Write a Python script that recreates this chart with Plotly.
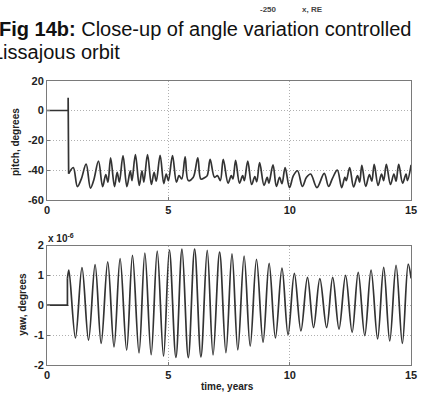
import plotly.graph_objects as go

W, H = 422, 398

# ---------------- data ----------------
pitch_step_t = [0, 0.87, 0.87, 0.89]
pitch_step_v = [0, 0, 8.5, -42.4]

pitch_t = [0.89, 1.08, 1.25, 1.41, 1.61, 1.79, 1.92, 2.12, 2.29, 2.42, 2.51, 2.62,
           2.78, 2.89, 2.98, 3.13, 3.29, 3.43, 3.50, 3.64, 3.80, 3.91, 3.99, 4.14,
           4.30, 4.41, 4.50, 4.66, 4.81, 4.91, 5.00, 5.17, 5.33, 5.44, 5.55, 5.69,
           5.82, 6.02, 6.21, 6.34, 6.50, 6.60, 6.72, 6.90, 7.02, 7.14, 7.26, 7.46,
           7.59, 7.66, 7.77, 7.93, 8.06, 8.13, 8.27, 8.43, 8.56, 8.64, 8.76, 8.94,
           9.07, 9.14, 9.31, 9.45, 9.58, 9.68, 9.81, 9.99, 10.15, 10.32, 10.52, 10.69,
           10.86, 11.12, 11.42, 11.60, 11.76, 11.96, 12.14, 12.27, 12.33, 12.47, 12.63,
           12.79, 12.88, 12.97, 13.13, 13.28, 13.38, 13.48, 13.64, 13.78, 13.87, 13.98,
           14.15, 14.29, 14.38, 14.49, 14.65, 14.79, 14.85, 15.0]
pitch_v = [-42.4, -38.3, -51, -46, -36, -52, -47, -34, -51, -43, -48, -31.7,
           -51, -41.5, -48, -30.2, -51, -40.4, -47, -29.6, -50.2, -40.4, -48, -29.6,
           -49.6, -41.5, -47.4, -30, -49, -42.6, -47, -30.2, -48, -43.7, -45.9, -31,
           -47, -45, -31.7, -46, -45, -43.7, -32.8, -44.8, -43.7, -47, -32.8, -48.7,
           -43.7, -45.9, -33.5, -48.7, -43.7, -47, -33.9, -49.6, -44.3, -47.8, -35, -50.2,
           -44.8, -48.7, -36.5, -50.9, -44.8, -49.1, -38.3, -51.7, -43.7, -40.4, -50.9, -44.8,
           -42.6, -51.7, -42.2, -50.9, -45.5, -40, -51.7, -44.8, -47, -38.3, -51.3,
           -43.7, -48, -36.7, -50.9, -43, -47.4, -36.1, -50.2, -42.6, -47, -36.1,
           -49.6, -42.6, -47.4, -36.1, -48.7, -42.6, -47, -36.5]

yaw_step_t = [0, 0.84, 0.84]
yaw_step_v = [0, 0, 0.9]

# yaw in units of 1e-6 degrees
yaw_t = [0.84, 0.90, 1.17, 1.44, 1.71, 1.98, 2.23, 2.50, 2.76, 3.01, 3.28, 3.52, 3.79,
         4.03, 4.29, 4.54, 4.80, 5.04, 5.31, 5.56, 5.82, 6.08, 6.34, 6.60, 6.84,
         7.11, 7.37, 7.62, 7.86, 8.12, 8.37, 8.63, 8.90, 9.15, 9.41, 9.68, 9.93,
         10.19, 10.46, 10.73, 10.98, 11.24, 11.52, 11.77, 12.03, 12.30, 12.57, 12.82,
         13.09, 13.35, 13.62, 13.87, 14.12, 14.38, 14.64, 14.88, 15.0]
yaw_v = [0.9, 1.18, -1.10, 1.26, -1.17, 1.36, -1.28, 1.45, -1.40, 1.56, -1.51, 1.67, -1.60,
         1.75, -1.66, 1.81, -1.71, 1.85, -1.75, 1.88, -1.76, 1.88, -1.73, 1.84, -1.67,
         1.78, -1.59, 1.72, -1.50, 1.65, -1.37, 1.54, -1.24, 1.40, -1.10, 1.24, -0.99,
         1.07, -0.86, 0.93, -0.75, 0.89, -0.75, 0.93, -0.80, 1.00, -0.91, 1.10,
         -1.02, 1.18, -1.13, 1.27, -1.20, 1.34, -1.28, 1.38, 0.9]

x_ticks = [0, 5, 10, 15]
x_labels = ["0", "5", "10", "15"]
pitch_ticks = [-60, -40, -20, 0, 20]
pitch_labels = ["-60", "-40", "-20", "0", "20"]
yaw_ticks = [-2, -1, 0, 1, 2]
yaw_labels = ["-2", "-1", "0", "1", "2"]

# ---------------- figure ----------------
def px(x):
    return x / W

def py(y):
    return 1 - y / H

LINE = dict(color="#333333", width=1.7)
FONT = "Arial, Liberation Sans, sans-serif"

fig = go.Figure()
fig.add_trace(go.Scatter(x=pitch_step_t, y=pitch_step_v, mode="lines", line=LINE,
                         xaxis="x", yaxis="y", showlegend=False))
fig.add_trace(go.Scatter(x=pitch_t, y=pitch_v, mode="lines",
                         line=dict(LINE, shape="spline", smoothing=1.0),
                         xaxis="x", yaxis="y", showlegend=False))
fig.add_trace(go.Scatter(x=yaw_step_t, y=yaw_step_v, mode="lines", line=LINE,
                         xaxis="x2", yaxis="y2", showlegend=False))
fig.add_trace(go.Scatter(x=yaw_t, y=yaw_v, mode="lines",
                         line=dict(LINE, shape="spline", smoothing=1.0),
                         xaxis="x2", yaxis="y2", showlegend=False))

ax_common = dict(showgrid=True, gridcolor="#b0b0b0", griddash="1px,2px", gridwidth=1,
                 showline=True, mirror=True, linecolor="#7a7a7a", linewidth=1,
                 ticks="inside", ticklen=3, tickcolor="#7a7a7a", zeroline=False,
                 ticklabeloverflow="allow",
                 tickfont=dict(family=FONT, size=11, color="#222", weight="bold"))

xd = [px(45), px(417)]
fig.update_layout(
    width=W, height=H, margin=dict(l=0, r=0, t=0, b=0),
    paper_bgcolor="white", plot_bgcolor="white",
    xaxis=dict(ax_common, domain=xd, range=[0, 15], tickvals=x_ticks, ticktext=x_labels, anchor="y"),
    yaxis=dict(ax_common, domain=[py(200), py(77)], range=[-60, 20],
               tickvals=pitch_ticks, ticktext=pitch_labels, anchor="x"),
    xaxis2=dict(ax_common, domain=xd, range=[0, 15], tickvals=x_ticks, ticktext=x_labels, anchor="y2"),
    yaxis2=dict(ax_common, domain=[py(370), py(247)], range=[-2, 2],
                tickvals=yaw_ticks, ticktext=yaw_labels, anchor="x2"),
)

def ann(text, x, y, size, xanchor="center", yanchor="middle", angle=0, bold=False, color="#222"):
    fig.add_annotation(text=text, x=px(x), y=py(y), xref="paper", yref="paper",
                       showarrow=False, xanchor=xanchor, yanchor=yanchor, textangle=angle,
                       font=dict(family=FONT, size=size, color=color,
                                 weight="bold" if bold else "normal"))

ann("<b>Fig 14b:</b> Close-up of angle variation controlled", -6, 24, 20, xanchor="left", color="#111")
ann("Lissajous orbit", -13, 47, 20, xanchor="left", color="#111")
ann("-250", 271, 4, 8, bold=True, color="#444")
ann("x, RE", 316, 4, 8, bold=True, color="#444")
ann("pitch, degrees", 13.5, 140, 10, angle=-90, bold=True)
ann("yaw, degrees", 20.5, 308, 10, angle=-90, bold=True)
ann("time, years", 229, 392, 10, bold=True)
ann("x 10<sup>-6</sup>", 44, 239, 10, xanchor="left", bold=True)

fig.write_html("out.html")
